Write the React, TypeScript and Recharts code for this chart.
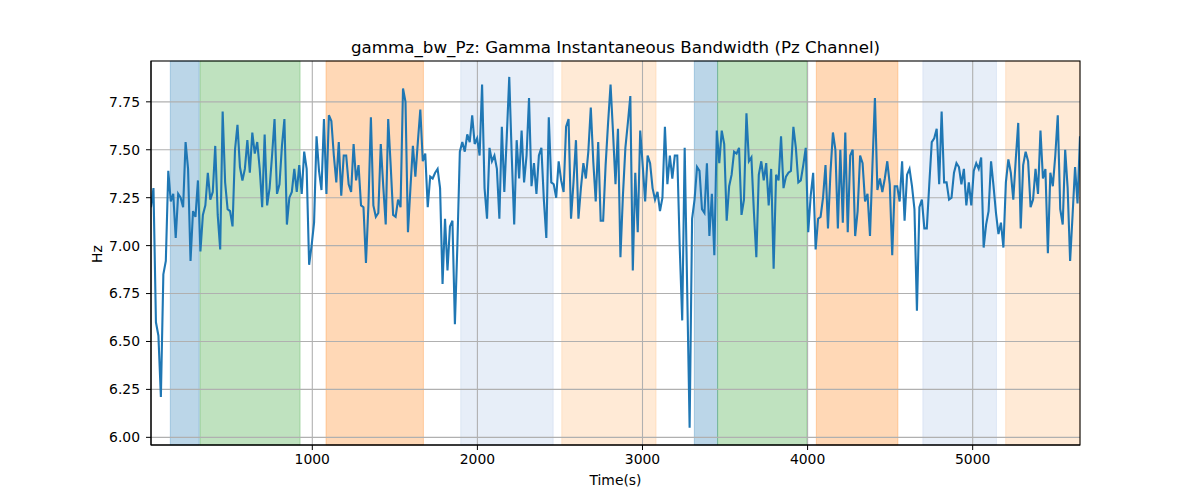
import {LineChart, Line, XAxis, YAxis, ReferenceArea, ReferenceLine} from 'recharts'

// gamma bandwidth samples (Hz), read left to right off the plot
const bwPart1 = [
    7.20, 7.30, 6.60, 6.53, 6.21, 6.85, 6.92, 7.39, 7.23, 7.27, 7.04, 7.27, 7.25, 7.20, 7.54, 7.40,
    6.92, 7.18, 7.15, 7.34, 6.97, 7.16, 7.21, 7.38, 7.24, 7.28, 7.52, 7.16, 6.98, 7.70, 7.33, 7.19,
    7.18, 7.10, 7.50, 7.63, 7.41, 7.34, 7.40, 7.55, 7.38, 7.59, 7.48, 7.54, 7.40, 7.20, 7.58, 7.21,
    7.30, 7.47, 7.66, 7.27, 7.32, 7.52, 7.66, 7.11, 7.25, 7.28, 7.40, 7.28, 7.42, 7.27, 7.49, 7.40,
    6.90, 7.00, 7.12, 7.57, 7.39, 7.29, 7.66, 7.27, 7.68, 7.65, 7.47, 7.33, 7.54, 7.26,
]
const bwPart2 = [
    7.47, 7.47, 7.32, 7.28, 7.53, 7.34, 7.42, 7.21, 7.20, 6.91, 7.21, 7.67, 7.21, 7.15, 7.17, 7.53,
    7.31, 7.11, 7.66, 7.42, 7.16, 7.15, 7.24, 7.20, 7.82, 7.75, 7.07, 7.30, 7.52, 7.36, 7.54, 7.71,
    7.44, 7.48, 7.20, 7.36, 7.35, 7.38, 7.40, 7.30, 6.80, 7.14, 6.87, 7.10, 7.13, 6.59, 7.00, 7.49,
    7.54, 7.49, 7.58, 7.54, 7.68, 7.53, 7.56, 7.47, 7.84, 7.30, 7.14, 7.51, 7.44, 7.47, 7.40, 7.14,
    7.62, 7.28, 7.57, 7.88, 7.47, 7.11, 7.55, 7.35, 7.60, 7.33, 7.47, 7.77, 7.31,
]
const bwPart3 = [
    7.43, 7.27, 7.47, 7.51, 7.24, 7.04, 7.67, 7.33, 7.32, 7.25, 7.44, 7.34, 7.28, 7.62, 7.66, 7.14,
    7.33, 7.55, 7.14, 7.30, 7.43, 7.35, 7.49, 7.72, 7.44, 7.23, 7.54, 7.13, 7.13, 7.42, 7.64, 7.84,
    7.59, 7.32, 7.61, 6.94, 7.26, 7.51, 7.64, 7.78, 6.87, 7.38, 7.07, 7.60, 7.42, 7.23, 7.47, 7.43,
    7.30, 7.24, 7.28, 7.18, 7.25, 7.62, 7.32, 7.47, 7.35, 7.47, 7.47, 6.99, 6.61, 7.51, 6.78, 6.05,
    7.14, 7.24, 7.41, 7.39, 7.19, 7.17, 7.43, 7.05, 7.27, 6.95, 7.60, 7.43,
]
const bwPart4 = [
    7.60, 7.53, 7.13, 7.31, 7.37, 7.49, 7.48, 7.51, 7.16, 7.24, 7.69, 7.44, 7.46, 7.18, 6.94, 7.37,
    7.44, 7.34, 7.43, 7.21, 7.40, 6.88, 7.37, 7.34, 7.57, 7.30, 7.36, 7.38, 7.39, 7.62, 7.51, 7.33,
    7.34, 7.42, 7.51, 7.07, 7.26, 7.38, 6.98, 7.14, 7.15, 7.25, 7.42, 7.09, 7.38, 7.59, 7.50, 7.09,
    7.50, 7.12, 7.59, 7.07, 7.47, 7.50, 7.05, 7.18, 7.47, 7.43, 7.23, 7.27, 7.05, 7.42, 7.77, 7.29,
    7.35, 7.28, 7.35, 7.44, 7.32, 6.95, 7.31, 7.31, 7.23, 7.44, 7.13, 7.37, 7.40,
]
const bwPart5 = [
    7.31, 7.19, 6.66, 7.20, 7.24, 7.09, 7.09, 7.32, 7.54, 7.56, 7.61, 7.32, 7.70, 7.33, 7.33, 7.24,
    7.25, 7.38, 7.43, 7.41, 7.32, 7.40, 7.21, 7.33, 7.21, 7.39, 7.43, 7.40, 7.46, 6.99, 7.11, 7.18,
    7.44, 7.31, 7.17, 7.06, 7.12, 6.99, 7.33, 7.45, 7.38, 7.24, 7.45, 7.64, 7.09, 7.42, 7.49, 7.44,
    7.20, 7.24, 7.40, 7.27, 7.60, 7.35, 7.40, 6.96, 7.38, 7.31, 7.47, 7.68, 7.19, 7.11, 7.50, 7.30,
    6.92, 7.16, 7.41, 7.22, 7.57,
]

// time range of the recording (s)
const timeStart = 23
const timeEnd = 5650

// shaded segments (s) and their kind
const bandStart = [140, 320, 1083, 1899, 2511, 3314, 3455, 4053, 4698, 5200]
const bandEnd = [315, 926, 1673, 2459, 3082, 3455, 3995, 4547, 5144, 5650]
const bandKind = ['a', 'b', 'c', 'd', 'e', 'a', 'b', 'c', 'd', 'e']

const xTicks = [1000, 2000, 3000, 4000, 5000]
const yTicks = [6.0, 6.25, 6.5, 6.75, 7.0, 7.25, 7.5, 7.75]

const kindColor: Record<string, string> = {
    a: '#1f77b4',
    b: '#2ca02c',
    c: '#ff7f0e',
    d: '#aec7e8',
    e: '#ffbb78',
}

const FONT = '"DejaVu Sans", sans-serif'
const tickStyle = {fill: '#000', fontSize: 13.9, fontFamily: FONT}

// plot box, matches the chart margins below
const PLOT = {left: 151, top: 61, right: 1080, bottom: 445}

function App() {
    const values = [...bwPart1, ...bwPart2, ...bwPart3, ...bwPart4, ...bwPart5]
    const step = (timeEnd - timeStart) / (values.length - 1)
    const data = values.map((v, i) => ({t: timeStart + i * step, v}))

    return (
        <div style={{position: 'absolute', left: 0, top: 0, width: 1200, height: 500, background: '#fff'}}>
            <LineChart width={1200} height={500} data={data}
                       margin={{top: 61, right: 120, bottom: 25, left: 91}}>
                <XAxis dataKey="t" type="number" domain={[timeStart, timeEnd]} allowDataOverflow
                       ticks={xTicks} tickSize={5} tickMargin={4} tick={tickStyle}
                       stroke="#000" height={30}/>
                <YAxis dataKey="v" type="number" domain={[5.96, 7.963]} allowDataOverflow
                       ticks={yTicks} tickFormatter={(v: number) => v.toFixed(2)}
                       tickSize={5} tickMargin={6} tick={tickStyle} stroke="#000" width={60}/>

                {bandStart.map((s, i) => (
                    <ReferenceArea key={'band' + i} x1={s} x2={bandEnd[i]}
                                   fill={kindColor[bandKind[i]]} fillOpacity={0.3}
                                   stroke={kindColor[bandKind[i]]} strokeOpacity={0.3}/>
                ))}

                {xTicks.map(t => (
                    <ReferenceLine key={'gx' + t} x={t} stroke="#b0b0b0" strokeWidth={1.1}/>
                ))}
                {yTicks.map(t => (
                    <ReferenceLine key={'gy' + t} y={t} stroke="#b0b0b0" strokeWidth={1.1}/>
                ))}

                <Line dataKey="v" type="linear" stroke="#1f77b4" strokeWidth={2.1}
                      dot={false} activeDot={false} isAnimationActive={false}/>
            </LineChart>

            <svg width={1200} height={500} style={{position: 'absolute', left: 0, top: 0, pointerEvents: 'none'}}>
                <rect x={PLOT.left} y={PLOT.top} width={PLOT.right - PLOT.left} height={PLOT.bottom - PLOT.top}
                      fill="none" stroke="#000" strokeWidth={1.1}/>
                <text x={615.5} y={53} textAnchor="middle" fontSize={16.7} fontFamily={FONT} fill="#000">
                    gamma_bw_Pz: Gamma Instantaneous Bandwidth (Pz Channel)
                </text>
                <text x={615.5} y={485} textAnchor="middle" fontSize={13.9} fontFamily={FONT} fill="#000">
                    Time(s)
                </text>
                <text x={101.5} y={254} textAnchor="middle" fontSize={13.9} fontFamily={FONT} fill="#000"
                      transform="rotate(-90 101.5 254)">
                    Hz
                </text>
            </svg>
        </div>
    )
}

export default App;
